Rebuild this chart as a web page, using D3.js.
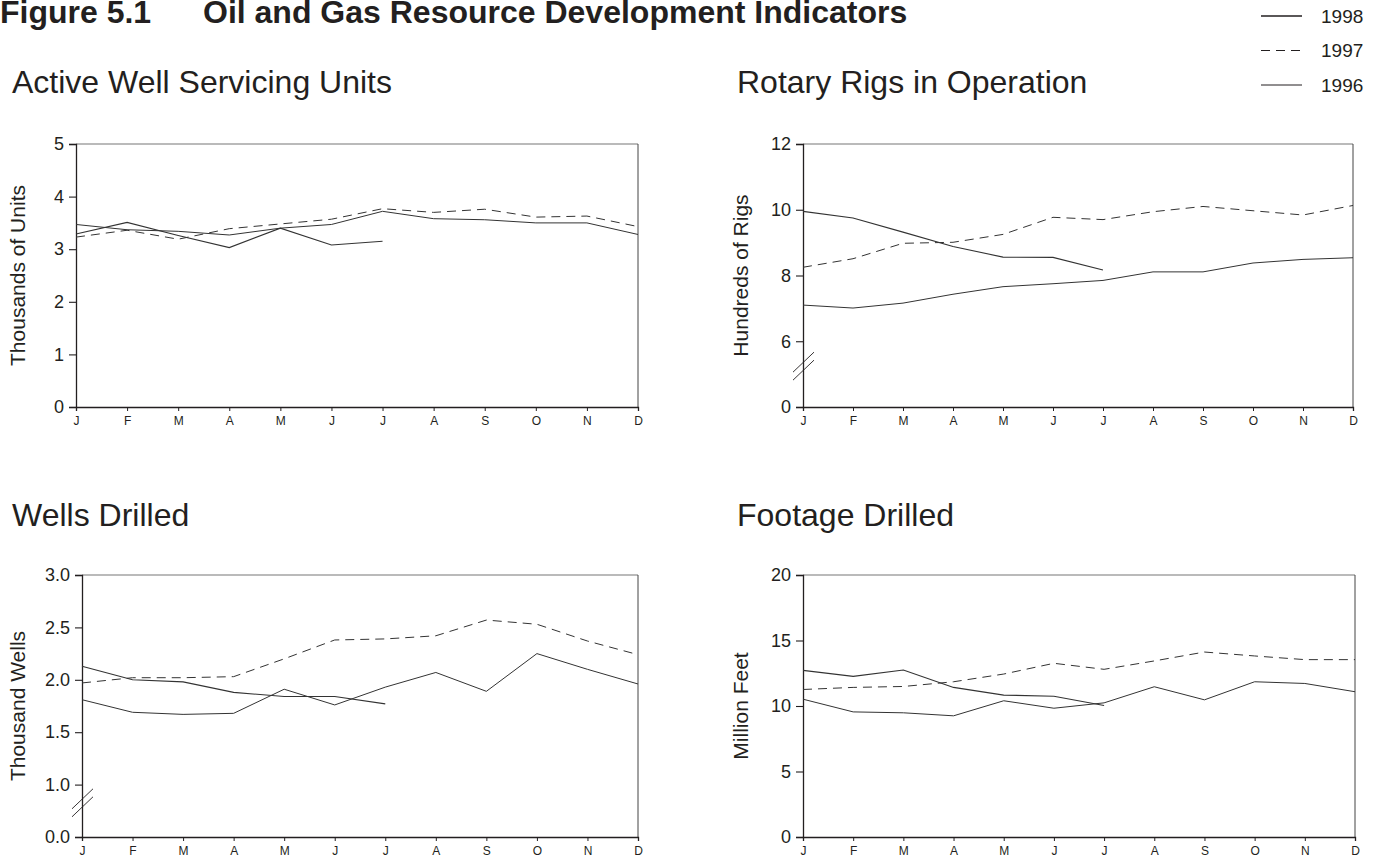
<!DOCTYPE html>
<html>
<head>
<meta charset="utf-8">
<script src="https://cdn.jsdelivr.net/npm/d3@7"></script>
<style>
  html, body { margin: 0; padding: 0; background: #fff; }
  svg { display: block; font-family: "Liberation Sans", Arial, sans-serif; }
</style>
</head>
<body>
<svg id="chart" width="1381" height="860"></svg>
<script>
// ---------------- DATA ----------------
const months = ["J","F","M","A","M","J","J","A","S","O","N","D"];
const years = ["1998","1997","1996"];

// Active Well Servicing Units (thousands)
const wellServicing1998 = [3.29, 3.51, 3.26, 3.03, 3.40, 3.08, 3.15];
const wellServicing1997 = [3.23, 3.36, 3.19, 3.39, 3.48, 3.57, 3.77, 3.70, 3.76, 3.61, 3.63, 3.43];
const wellServicing1996 = [3.47, 3.37, 3.34, 3.27, 3.40, 3.47, 3.72, 3.58, 3.56, 3.50, 3.50, 3.28];
const wellServicingTicks = [0, 1, 2, 3, 4, 5];

// Rotary Rigs in Operation (hundreds)
const rigs1998 = [9.95, 9.75, 9.32, 8.88, 8.56, 8.55, 8.17];
const rigs1997 = [8.25, 8.51, 8.98, 9.01, 9.25, 9.77, 9.70, 9.94, 10.10, 9.97, 9.84, 10.13];
const rigs1996 = [7.10, 7.01, 7.16, 7.43, 7.66, 7.75, 7.85, 8.11, 8.11, 8.38, 8.49, 8.54];
const rigsTicks = [0, 6, 8, 10, 12];

// Wells Drilled (thousand)
const wells1998 = [2.13, 2.00, 1.98, 1.88, 1.84, 1.84, 1.77];
const wells1997 = [1.97, 2.02, 2.02, 2.03, 2.20, 2.38, 2.39, 2.42, 2.57, 2.53, 2.37, 2.24];
const wells1996 = [1.81, 1.69, 1.67, 1.68, 1.91, 1.76, 1.93, 2.07, 1.89, 2.25, 2.10, 1.96];
const wellsTicks = [0, 1, 1.5, 2, 2.5, 3];

// Footage Drilled (million feet)
const footage1998 = [12.72, 12.26, 12.75, 11.42, 10.83, 10.75, 10.04];
const footage1997 = [11.26, 11.42, 11.49, 11.85, 12.44, 13.26, 12.80, 13.44, 14.12, 13.82, 13.54, 13.54];
const footage1996 = [10.52, 9.55, 9.48, 9.25, 10.40, 9.83, 10.24, 11.47, 10.47, 11.85, 11.72, 11.09];
const footageTicks = [0, 5, 10, 15, 20];

const figureTitle = "Figure 5.1";
const figureSubtitle = "Oil and Gas Resource Development Indicators";

// ---------------- LAYOUT ----------------
const svg = d3.select("#chart");
const ink = "#231f20";

svg.append("text").attr("x", 0).attr("y", 23)
  .attr("font-size", 32).attr("font-weight", "bold").attr("fill", ink)
  .text(figureTitle);
svg.append("text").attr("x", 203).attr("y", 23)
  .attr("font-size", 32).attr("font-weight", "bold").attr("fill", ink)
  .text(figureSubtitle);

// legend
const legendStyles = {
  "1998": {dash: null, w: 1.5},
  "1997": {dash: "9,6", w: 1.1},
  "1996": {dash: null, w: 1.0}
};
const legendY = d3.scalePoint().domain(years).range([16, 85]);
years.forEach(y => {
  const st = legendStyles[y];
  svg.append("line")
    .attr("x1", 1261).attr("x2", 1302)
    .attr("y1", legendY(y)).attr("y2", legendY(y))
    .attr("stroke", ink).attr("stroke-width", st.w)
    .attr("stroke-dasharray", st.dash);
  svg.append("text").attr("x", 1321).attr("y", legendY(y))
    .attr("dy", "0.35em").attr("font-size", 19).attr("fill", ink)
    .text(y);
});

const panels = [
  {title: "Active Well Servicing Units", ylabel: "Thousands of Units",
   x0: 76, x1: 638, y0: 144, y1: 407, titleX: 12, titleY: 93, ylabelX: 25,
   domain: [0, 5], ticks: wellServicingTicks, fmt: d3.format("d"),
   series: [wellServicing1998, wellServicing1997, wellServicing1996], brk: false},
  {title: "Rotary Rigs in Operation", ylabel: "Hundreds of Rigs",
   x0: 803, x1: 1353, y0: 144, y1: 407, titleX: 737, titleY: 93, ylabelX: 748,
   domain: [0, 6, 12], ticks: rigsTicks, fmt: d3.format("d"),
   series: [rigs1998, rigs1997, rigs1996], brk: true},
  {title: "Wells Drilled", ylabel: "Thousand Wells",
   x0: 82, x1: 638, y0: 575, y1: 837, titleX: 12, titleY: 526, ylabelX: 25,
   domain: [0, 1, 3], ticks: wellsTicks, fmt: d3.format(".1f"),
   series: [wells1998, wells1997, wells1996], brk: true},
  {title: "Footage Drilled", ylabel: "Million Feet",
   x0: 803, x1: 1355, y0: 575, y1: 837, titleX: 737, titleY: 526, ylabelX: 748,
   domain: [0, 20], ticks: footageTicks, fmt: d3.format("d"),
   series: [footage1998, footage1997, footage1996], brk: false}
];

panels.forEach(p => {
  const g = svg.append("g");
  const x = d3.scalePoint().domain(d3.range(months.length)).range([p.x0, p.x1]);
  let y;
  if (p.domain.length === 3) {
    // broken axis: lower segment compressed to one tick interval
    const span = p.y1 - p.y0;
    const upperUnits = (p.domain[2] - p.domain[1]);
    const step = (p.ticks[2] - p.ticks[1]);
    const nSteps = upperUnits / step + 1;
    const yBreak = p.y1 - span / nSteps;
    y = d3.scaleLinear().domain(p.domain).range([p.y1, yBreak, p.y0]);
  } else {
    y = d3.scaleLinear().domain(p.domain).range([p.y1, p.y0]);
  }

  // frame (top & right)
  g.append("line").attr("x1", p.x0).attr("x2", p.x1).attr("y1", p.y0).attr("y2", p.y0)
    .attr("stroke", "#777").attr("stroke-width", 1.2);
  g.append("line").attr("x1", p.x1).attr("x2", p.x1).attr("y1", p.y0).attr("y2", p.y1)
    .attr("stroke", "#444").attr("stroke-width", 1);

  // y axis
  const ya = g.append("g").attr("transform", `translate(${p.x0},0)`)
    .call(d3.axisLeft(y).tickValues(p.ticks).tickFormat(p.fmt).tickSize(7).tickPadding(5));
  ya.select(".domain").attr("stroke", ink).attr("stroke-width", 1.3);
  ya.selectAll(".tick line").attr("stroke", ink).attr("stroke-width", 1.1);
  ya.selectAll(".tick text").attr("font-size", 18).attr("fill", ink)
    .attr("font-family", "Liberation Sans, Arial, sans-serif");

  // x axis
  const xa = g.append("g").attr("transform", `translate(0,${p.y1})`)
    .call(d3.axisBottom(x).tickFormat(i => months[i]).tickSize(4).tickPadding(5));
  xa.select(".domain").attr("stroke", ink).attr("stroke-width", 1.3);
  xa.selectAll(".tick line").attr("stroke", ink);
  xa.selectAll(".tick text").attr("font-size", 12).attr("fill", ink)
    .attr("font-family", "Liberation Sans, Arial, sans-serif");

  // break marks
  if (p.brk) {
    const yb = (y(p.domain[1]) + p.y1) / 2 - 8;
    [-4, 4].forEach(o => {
      g.append("line")
        .attr("x1", p.x0 - 10).attr("y1", yb + o + 10)
        .attr("x2", p.x0 + 11).attr("y2", yb + o - 10)
        .attr("stroke", ink).attr("stroke-width", 0.9);
    });
  }

  // titles
  svg.append("text").attr("x", p.titleX).attr("y", p.titleY)
    .attr("font-size", 32).attr("fill", ink).text(p.title);
  svg.append("text")
    .attr("transform", `translate(${p.ylabelX},${(p.y0 + p.y1) / 2}) rotate(-90)`)
    .attr("text-anchor", "middle").attr("font-size", 21).attr("fill", ink)
    .text(p.ylabel);

  // lines
  const line = d3.line().x((d, i) => x(i)).y(d => y(d));
  p.series.forEach((s, k) => {
    const st = legendStyles[years[k]];
    g.append("path").datum(s).attr("d", line)
      .attr("fill", "none").attr("stroke", "#333")
      .attr("stroke-width", st.w === 1.5 ? 1.1 : 1.0)
      .attr("stroke-dasharray", st.dash);
  });
});
</script>
</body>
</html>
